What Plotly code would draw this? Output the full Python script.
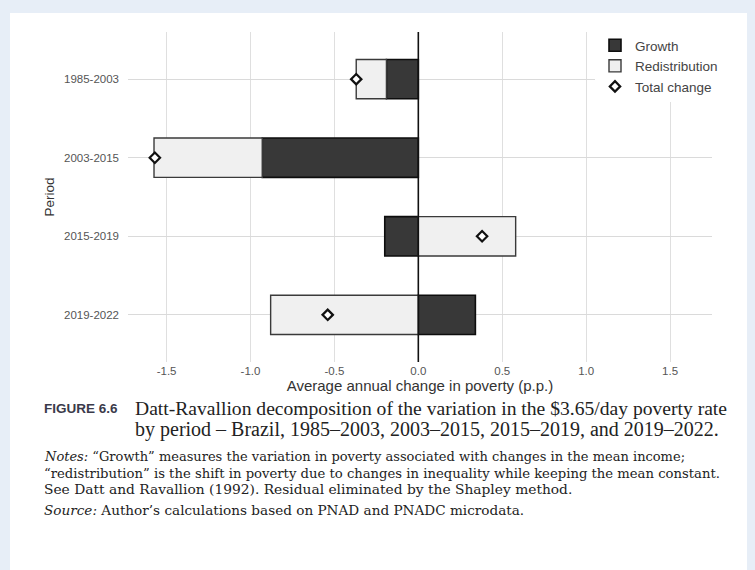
import plotly.graph_objects as go

periods = ["1985-2003", "2003-2015", "2015-2019", "2019-2022"]
growth = [-0.19, -0.93, -0.20, 0.34]
redistribution = [-0.18, -0.645, 0.58, -0.88]
total_change = [-0.37, -1.57, 0.38, -0.54]
x_ticks = [-1.5, -1.0, -0.5, 0.0, 0.5, 1.0, 1.5]
x_tick_labels = ["-1.5", "-1.0", "-0.5", "0.0", "0.5", "1.0", "1.5"]

W, H = 755, 570
L, R, T, B = 128, 43, 32, 208
PW, PH = W - L - R, H - T - B

def px(x):
    return (x - L) / PW

def py(y):
    return (H - B - y) / PH

fig = go.Figure()
fig.add_trace(go.Bar(
    y=periods, x=growth, orientation="h", name="Growth",
    marker=dict(color="#383838", line=dict(color="#0d0d0d", width=1.6)),
    width=0.5,
))
fig.add_trace(go.Bar(
    y=periods, x=redistribution, orientation="h", name="Redistribution",
    marker=dict(color="#f0f0f0", line=dict(color="#3a3a3a", width=1.4)),
    width=0.5,
))
fig.add_trace(go.Scatter(
    y=periods, x=total_change, mode="markers", name="Total change",
    marker=dict(symbol="diamond", size=8, color="white",
                line=dict(color="#111111", width=2.2)),
))

# minor vertical gridlines
for v in [-1.75, -1.25, -0.75, -0.25, 0.25, 0.75, 1.25, 1.75]:
    fig.add_shape(type="line", xref="x", yref="paper", x0=v, x1=v, y0=0, y1=1,
                  line=dict(color="#efefef", width=1), layer="below")
# zero reference line
fig.add_shape(type="line", xref="x", yref="paper", x0=0, x1=0, y0=0, y1=1,
              line=dict(color="#111111", width=1.6), layer="above")
# white card
fig.add_shape(type="rect", xref="paper", yref="paper",
              x0=px(10), x1=px(747), y0=py(575), y1=py(13),
              fillcolor="white", line=dict(width=0), layer="below")

serif = "Liberation Serif, Times New Roman, serif"
serif_wide = "DejaVu Serif, serif"
sans = "Liberation Sans, Arial, sans-serif"
ann = []
ann.append(dict(text="<b>FIGURE 6.6</b>", x=px(42), y=py(408), xanchor="left", yanchor="middle",
                font=dict(family=sans, size=13.5, color="#3a3a4a")))
ann.append(dict(text="Datt-Ravallion decomposition of the variation in the $3.65/day poverty rate",
                x=px(133), y=py(408), xanchor="left", yanchor="middle",
                font=dict(family=serif, size=19.6, color="#222222")))
ann.append(dict(text="by period – Brazil, 1985–2003, 2003–2015, 2015–2019, and 2019–2022.",
                x=px(133), y=py(429), xanchor="left", yanchor="middle",
                font=dict(family=serif, size=20, color="#222222")))
notes = [
    "<i>Notes:</i> “Growth” measures the variation in poverty associated with changes in the mean income;",
    "“redistribution” is the shift in poverty due to changes in inequality while keeping the mean constant.",
    "See Datt and Ravallion (1992). Residual eliminated by the Shapley method.",
]
note_sizes = [13.0, 13.2, 13.8]
for i, t in enumerate(notes):
    ann.append(dict(text=t, x=px(42), y=py(456.5 + 16.5 * i), xanchor="left", yanchor="middle",
                    font=dict(family=serif_wide, size=note_sizes[i], color="#222222")))
ann.append(dict(text="<i>Source:</i> Author’s calculations based on PNAD and PNADC microdata.",
                x=px(42), y=py(510), xanchor="left", yanchor="middle",
                font=dict(family=serif_wide, size=13.6, color="#222222")))
for a in ann:
    a.update(xref="paper", yref="paper", showarrow=False)

fig.update_layout(
    width=W, height=H,
    margin=dict(l=L, r=R, t=T, b=B),
    paper_bgcolor="#e7eef7",
    plot_bgcolor="white",
    barmode="relative",
    bargap=0.5,
    font=dict(family=sans, color="#444444"),
    showlegend=True,
    legend=dict(x=px(595), y=py(30), xanchor="left", yanchor="top",
                bgcolor="white", font=dict(size=13.5, color="#444444"),
                tracegroupgap=0, itemwidth=30),
    annotations=ann,
)
fig.update_xaxes(range=[-1.73, 1.75], tickvals=x_ticks, ticktext=x_tick_labels,
                 showgrid=True, gridcolor="#dfdfdf", gridwidth=1, zeroline=False,
                 automargin=False,
                 tickfont=dict(size=11.5, color="#555555"), ticks="",
                 title=dict(text="Average annual change in poverty (p.p.)",
                            font=dict(size=15, color="#333333"), standoff=2))
fig.update_yaxes(categoryorder="array", categoryarray=periods, autorange=False,
                 range=[3.6, -0.6], showgrid=True, gridcolor="#dadada", gridwidth=1,
                 zeroline=False, automargin=False,
                 tickfont=dict(size=11.5, color="#555555"), ticks="",
                 ticklabelstandoff=8,
                 title=dict(text="Period", font=dict(size=13.5, color="#333333"), standoff=6))

fig.write_html("out.html", config={"displayModeBar": False},
               post_script="document.body.style.margin='0';")
